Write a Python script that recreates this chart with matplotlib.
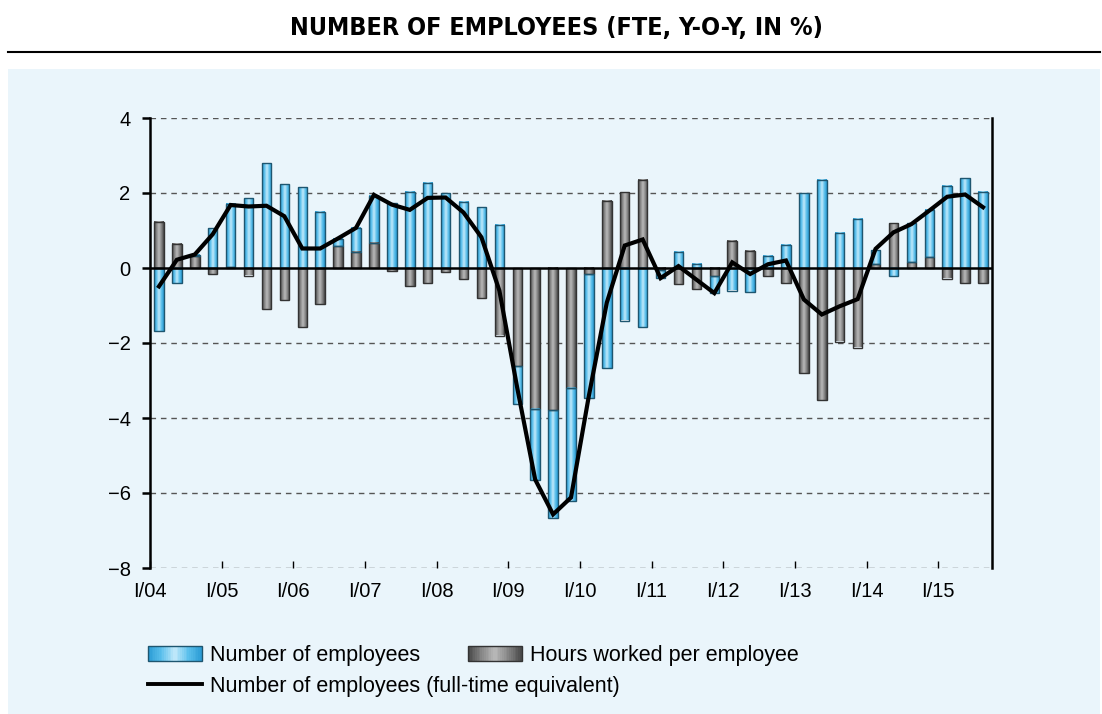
import numpy as np
import matplotlib
matplotlib.use("Agg")
import matplotlib.pyplot as plt
from matplotlib.patches import Rectangle
from matplotlib.lines import Line2D
from matplotlib.legend_handler import HandlerBase
from matplotlib.colors import LinearSegmentedColormap

# ---------------- data (quarterly, Q1 2004 .. Q3 2015) ----------------
employees = [-1.67, -0.41, 0.03, 1.06, 1.69, 1.86, 2.79, 2.23,
             2.15, 1.50, 0.19, 0.62, 1.23, 1.73, 2.04, 2.28,
             1.99, 1.77, 1.62, 1.16, -1.01, -1.90, -2.88, -3.02,
             -3.29, -2.66, -1.40, -1.58, -0.21, 0.44, 0.11, -0.45,
             -0.60, -0.64, 0.33, 0.62, 1.99, 2.36, 0.94, 1.32,
             0.37, -0.22, 1.02, 1.26, 2.20, 2.40, 2.04]
hours = [1.24, 0.65, 0.31, -0.15, 0.02, -0.20, -1.09, -0.85,
         -1.58, -0.96, 0.58, 0.44, 0.68, -0.07, -0.49, -0.40,
         -0.10, -0.30, -0.81, -1.80, -2.61, -3.75, -3.79, -3.19,
         -0.17, 1.80, 2.02, 2.36, -0.06, -0.42, -0.56, -0.22,
         0.73, 0.46, -0.21, -0.40, -2.79, -3.51, -1.96, -2.12,
         0.10, 1.20, 0.17, 0.30, -0.28, -0.41, -0.41]
fte = [-0.49, 0.22, 0.36, 0.90, 1.68, 1.64, 1.66, 1.38,
       0.52, 0.52, 0.79, 1.07, 1.95, 1.69, 1.55, 1.87,
       1.88, 1.48, 0.82, -0.60, -3.20, -5.64, -6.57, -6.12,
       -3.40, -0.92, 0.60, 0.76, -0.27, 0.05, -0.31, -0.67,
       0.15, -0.16, 0.10, 0.20, -0.84, -1.24, -1.02, -0.83,
       0.51, 0.95, 1.17, 1.53, 1.90, 1.96, 1.62]
year_labels = ["I/04", "I/05", "I/06", "I/07", "I/08", "I/09",
               "I/10", "I/11", "I/12", "I/13", "I/14", "I/15"]
y_ticks = [-8, -6, -4, -2, 0, 2, 4]

label_emp = "Number of employees"
label_hrs = "Hours worked per employee"
label_fte = "Number of employees (full-time equivalent)"
title = "NUMBER OF EMPLOYEES (FTE, Y-O-Y, IN %)"

# ---------------- styling ----------------
FONT = "Liberation Sans"
BG = "#eaf5fb"
blue_cmap = LinearSegmentedColormap.from_list(
    "bl", ["#2a9bd4", "#5cc0ec", "#c4eafb", "#5cc0ec", "#2a9bd4"])
gray_cmap = LinearSegmentedColormap.from_list(
    "gr", ["#474747", "#858585", "#bababa", "#858585", "#474747"])
blue_edge = "#1e5670"
gray_edge = "#333333"

W, H = 1102, 714
fig = plt.figure(figsize=(W / 100, H / 100), dpi=100, facecolor="white")

# panel background and title
fig.patches.append(Rectangle((8 / W, 0), (1100 - 8) / W, 1 - 69 / H,
                             transform=fig.transFigure, facecolor=BG,
                             edgecolor="none", zorder=-10))
fig.lines.append(Line2D([8 / W, 1100 / W], [1 - 51.5 / H, 1 - 51.5 / H],
                        transform=fig.transFigure, color="black", lw=1.5,
                        zorder=-5))
fig.text(556 / W, 1 - 28 / H, title, ha="center", va="center",
         fontfamily="DejaVu Sans", fontstretch="condensed",
         fontweight="bold", fontsize=18)

ax = fig.add_axes([150 / W, 1 - 568 / H, (992 - 150) / W, (568 - 118) / H])
ax.set_facecolor("none")
ax.set_zorder(2)

n = len(employees)
x = np.arange(n) + 0.5
emp = np.array(employees)
hrs = np.array(hours)
emp_bottom = np.where(np.sign(emp) == np.sign(hrs), hrs, 0.0)

bw = 0.53
grad = np.linspace(0, 1, 64).reshape(1, -1)


def gradient_bars(container, cmap, edge):
    for p in container.patches:
        x0, y0 = p.get_x(), p.get_y()
        w, h = p.get_width(), p.get_height()
        ylo, yhi = min(y0, y0 + h), max(y0, y0 + h)
        if yhi - ylo < 1e-9:
            continue
        ax.imshow(grad, cmap=cmap, extent=[x0, x0 + w, ylo, yhi],
                  aspect="auto", zorder=2, interpolation="bilinear")
        p.set_facecolor("none")
        p.set_edgecolor(edge)
        p.set_linewidth(1.0)
        p.set_zorder(3)


bars_h = ax.bar(x, hrs, width=bw, bottom=0)
gradient_bars(bars_h, gray_cmap, gray_edge)
bars_e = ax.bar(x, emp, width=bw, bottom=emp_bottom)
gradient_bars(bars_e, blue_cmap, blue_edge)

ax.axhline(0, color="black", lw=1.8, zorder=4)
ax.plot(x, fte, color="black", lw=3.0, zorder=5, solid_joinstyle="miter")

ax.set_xlim(0, n)
ax.set_ylim(-8, 4)
ax.set_yticks(y_ticks)
ax.set_yticklabels([("\u2212" + str(abs(v))) if v < 0 else str(v) for v in y_ticks])
ax.set_xticks(np.arange(0, 4 * len(year_labels), 4))
ax.set_xticklabels(year_labels)

for v in y_ticks:
    if v != 0:
        ax.axhline(v, color="#555555", lw=1.0, ls=(0, (4, 3.5)), zorder=1)

for s in ["top", "bottom"]:
    ax.spines[s].set_visible(False)
for s in ["left", "right"]:
    ax.spines[s].set_linewidth(1.8)
    ax.spines[s].set_color("black")

ax.tick_params(axis="y", direction="out", length=6, width=1.8, pad=8,
               labelsize=14.5)
ax.tick_params(axis="x", direction="in", length=5, width=1.0, pad=10,
               labelsize=14.5)
for t in ax.get_xticklabels() + ax.get_yticklabels():
    t.set_fontfamily(FONT)


# ---------------- legend ----------------
class GradHandler(HandlerBase):
    def __init__(self, cmap, edge):
        super().__init__()
        self.cmap = cmap
        self.edge = edge

    def create_artists(self, legend, orig_handle, xdescent, ydescent,
                       width, height, fontsize, trans):
        arts = []
        k = 30
        for i in range(k):
            arts.append(Rectangle((-xdescent + width * i / k, -ydescent),
                                  width / k * 1.05, height,
                                  facecolor=self.cmap((i + 0.5) / k),
                                  edgecolor="none", transform=trans))
        arts.append(Rectangle((-xdescent, -ydescent), width, height,
                              facecolor="none", edgecolor=self.edge,
                              lw=1.0, transform=trans))
        return arts


h_emp = Rectangle((0, 0), 1, 1)
h_hrs = Rectangle((0, 0), 1, 1, label="h")
h_fte = Line2D([], [], color="black", lw=2.8)

leg1 = fig.legend([h_emp, h_hrs], [label_emp, label_hrs], ncol=2,
                  loc="upper left", bbox_to_anchor=(148 / W, 1 - 645 / H),
                  frameon=False, handlelength=2.5, handleheight=0.7,
                  handletextpad=0.4, columnspacing=2.2, borderpad=0,
                  borderaxespad=0,
                  prop={"family": FONT, "size": 15.5},
                  handler_map={h_emp: GradHandler(blue_cmap, blue_edge),
                               h_hrs: GradHandler(gray_cmap, gray_edge)})
leg2 = fig.legend([h_fte], [label_fte], loc="upper left",
                  bbox_to_anchor=(148 / W, 1 - 676 / H), frameon=False,
                  handlelength=2.5, handletextpad=0.4, borderpad=0,
                  borderaxespad=0, prop={"family": FONT, "size": 15.5})

fig.savefig("out.png", dpi=100, facecolor="white")
